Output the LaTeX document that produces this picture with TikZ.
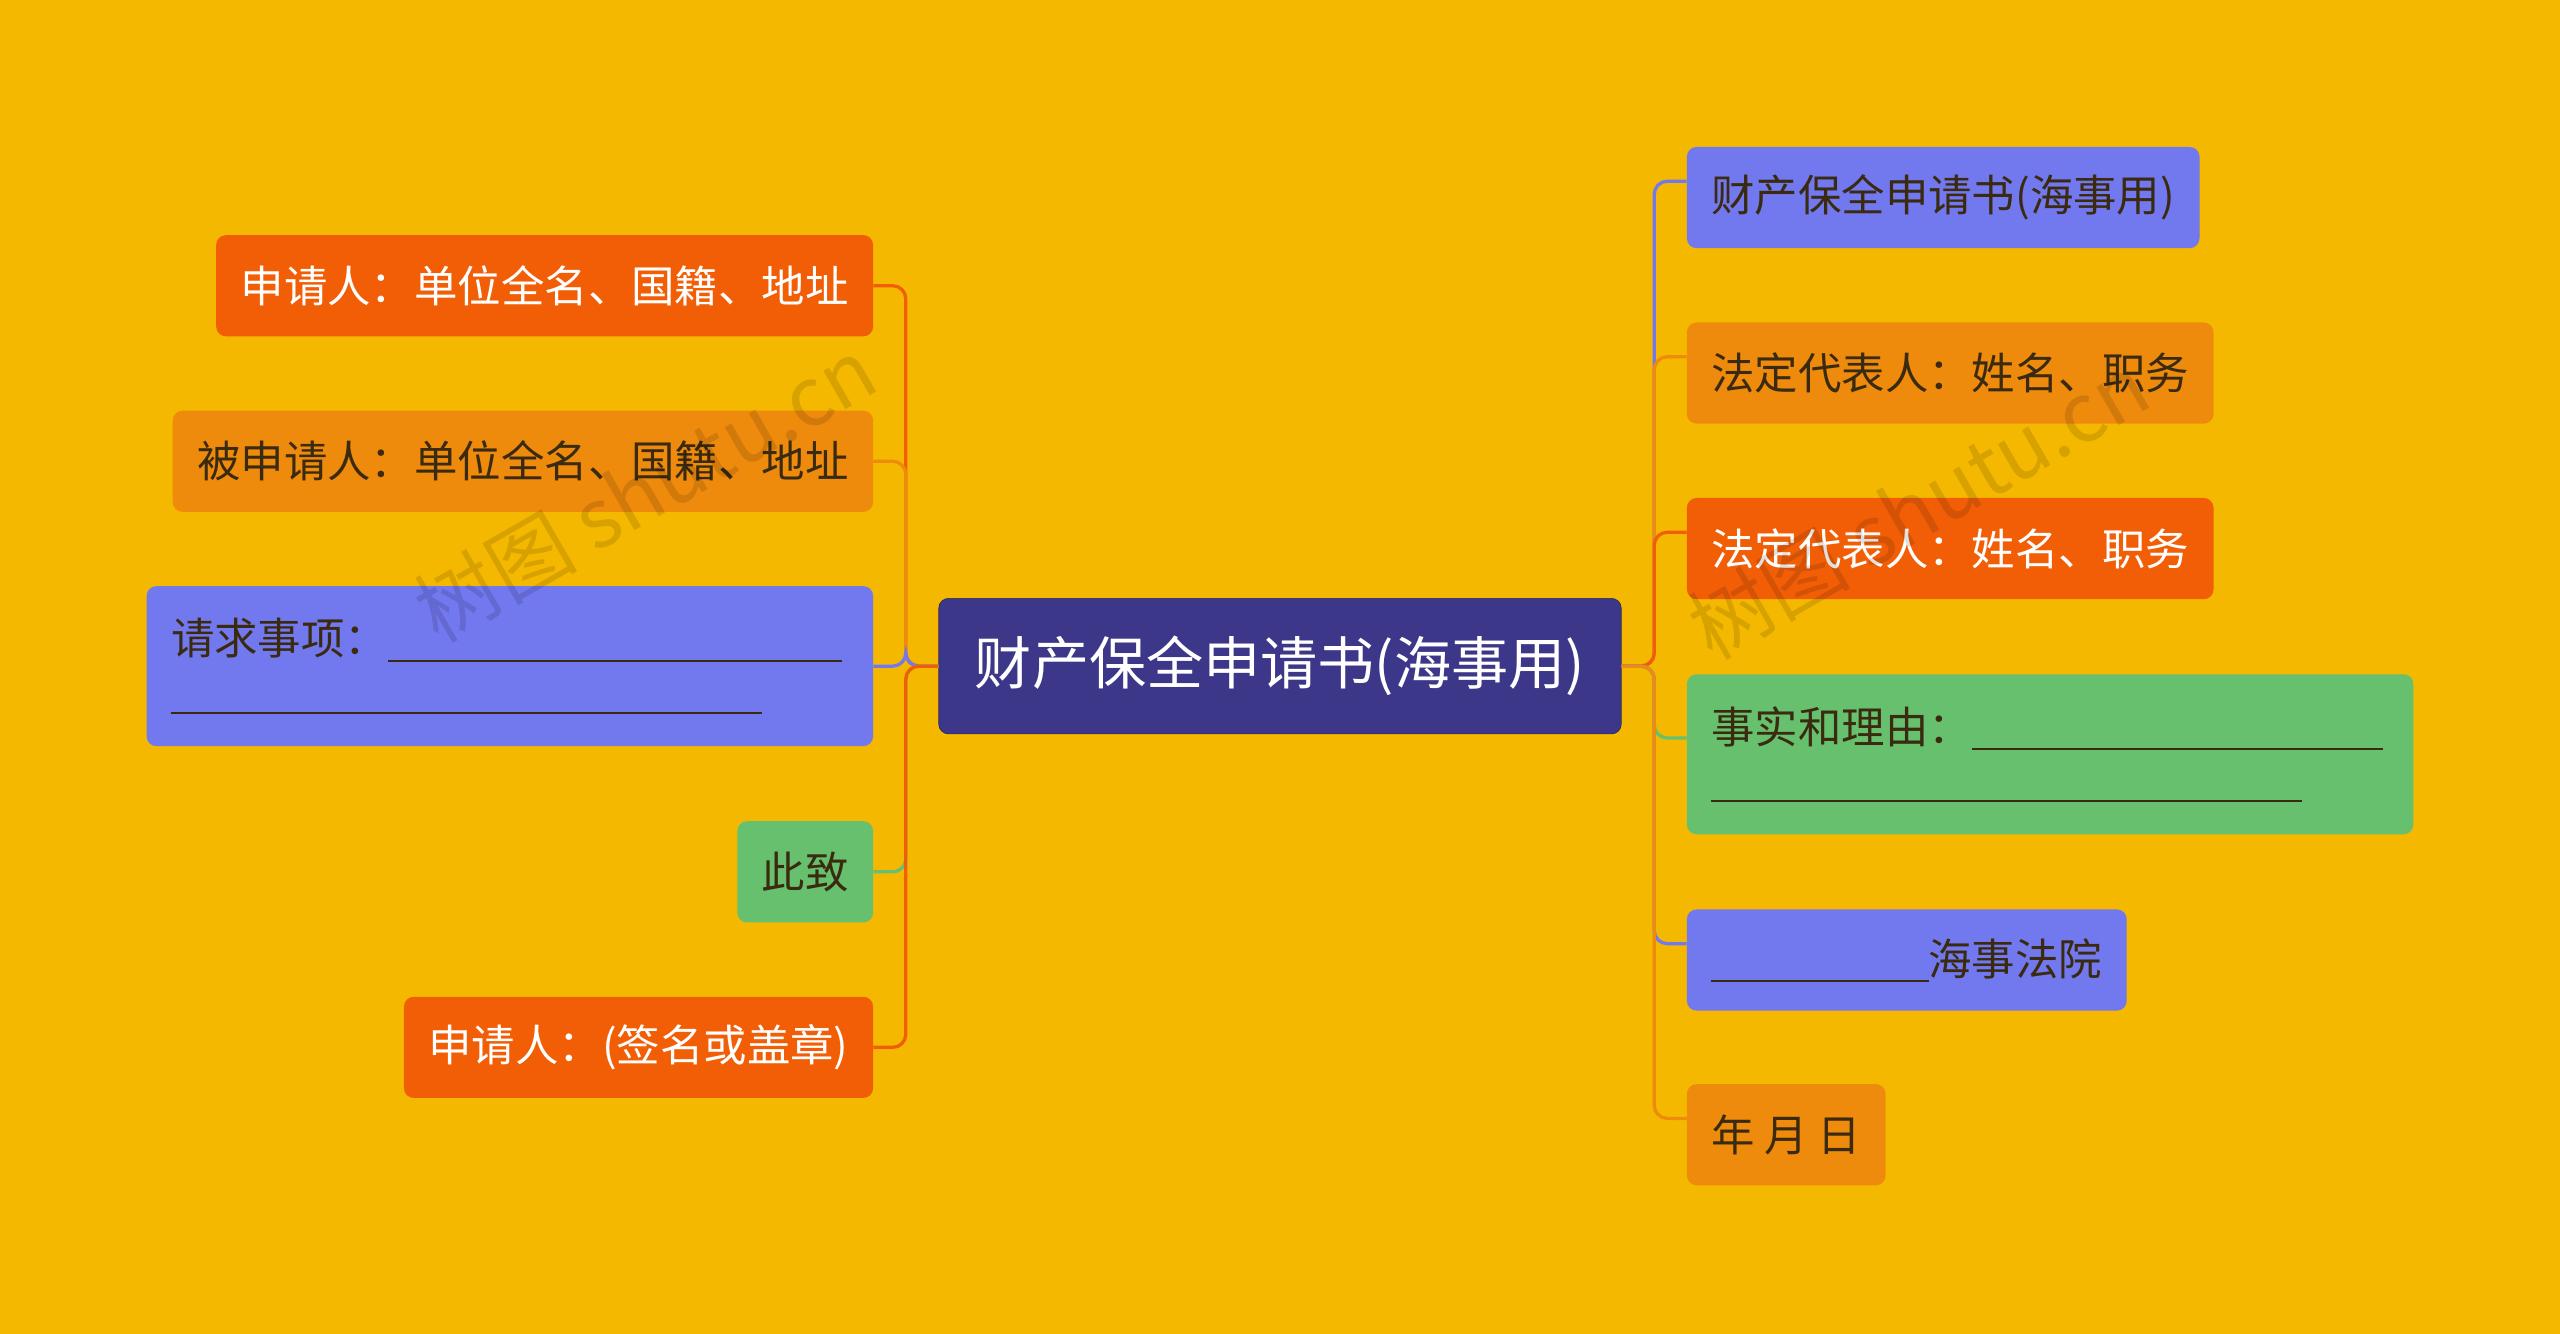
\documentclass[tikz,border=0pt]{standalone}
\usepackage{fontspec}
\setmainfont{Noto Sans CJK SC}
\definecolor{bg}{HTML}{F5B800}
\definecolor{cdark}{HTML}{3D3789}
\definecolor{cred}{HTML}{F25E06}
\definecolor{corg}{HTML}{EE8A0C}
\definecolor{cblue}{HTML}{7278EE}
\definecolor{cgrn}{HTML}{66C06E}
\definecolor{tdark}{HTML}{3A2A10}
\newcommand{\blank}[1]{\rule[-4pt]{#1}{1.2pt}}
\begin{document}
\begin{tikzpicture}[x=1pt,y=-1pt,
 box/.style={rounded corners=6pt,minimum height=62pt,inner xsep=15pt,font=\fontsize{26.6}{32}\selectfont},
 red/.style={box,fill=cred,text=white},
 org/.style={box,fill=corg,text=tdark},
 blu/.style={box,fill=cblue,text=tdark},
 grn/.style={box,fill=cgrn,text=tdark},
 ln/.style={line width=2pt,rounded corners=8pt}]
\fill[bg] (0,0) rectangle (1568,817);
\useasboundingbox (0,0) rectangle (1568,817);
\node[rounded corners=6pt,fill=cdark,draw=cdark!70!black,text=white,minimum width=418pt,minimum height=83pt,font=\fontsize{35}{40}\selectfont] (c) at (784,408) {财产保全申请书(海事用)};
% left
\node[red,anchor=east] (l1) at (535,175) {申请人：单位全名、国籍、地址};
\node[org,anchor=east] (l2) at (535,282.5) {被申请人：单位全名、国籍、地址};
\node[blu,anchor=east,minimum height=98pt,minimum width=445pt,align=left,text width=415pt] (l3) at (535,408) {请求事项：\blank{278pt}\\\blank{362pt}};
\node[grn,anchor=east] (l4) at (535,534) {此致};
\node[red,anchor=east] (l5) at (535,641.5) {申请人：(签名或盖章)};
% right
\node[blu,anchor=west] (r1) at (1033,121) {财产保全申请书(海事用)};
\node[org,anchor=west] (r2) at (1033,228.5) {法定代表人：姓名、职务};
\node[red,anchor=west] (r3) at (1033,336) {法定代表人：姓名、职务};
\node[grn,anchor=west,minimum height=98pt,minimum width=445pt,align=left,text width=415pt] (r4) at (1033,462) {事实和理由：\blank{252pt}\\\blank{362pt}};
\node[blu,anchor=west] (r5) at (1033,588) {\blank{133pt}海事法院};
\node[org,anchor=west] (r6) at (1033,695) {年 月 日};
% connectors
\foreach \n/\col in {l1/cred,l2/corg,l3/cblue,l4/cgrn,l5/cred}
  \draw[ln,\col] (c.west) -- ++(-20,0) |- (\n.east);
\foreach \n/\col in {r1/cblue,r2/corg,r3/cred,r4/cgrn,r5/cblue,r6/corg}
  \draw[ln,\col] (c.east) -- ++(20,0) |- ([yshift=10pt]\n.west);
% watermark
\node[rotate=30,text=black,opacity=0.12,font=\fontsize{50}{50}\selectfont] at (395,300) {树图 shutu.cn};
\node[rotate=30,text=black,opacity=0.12,font=\fontsize{50}{50}\selectfont] at (1175,310) {树图 shutu.cn};
\end{tikzpicture}
\end{document}
